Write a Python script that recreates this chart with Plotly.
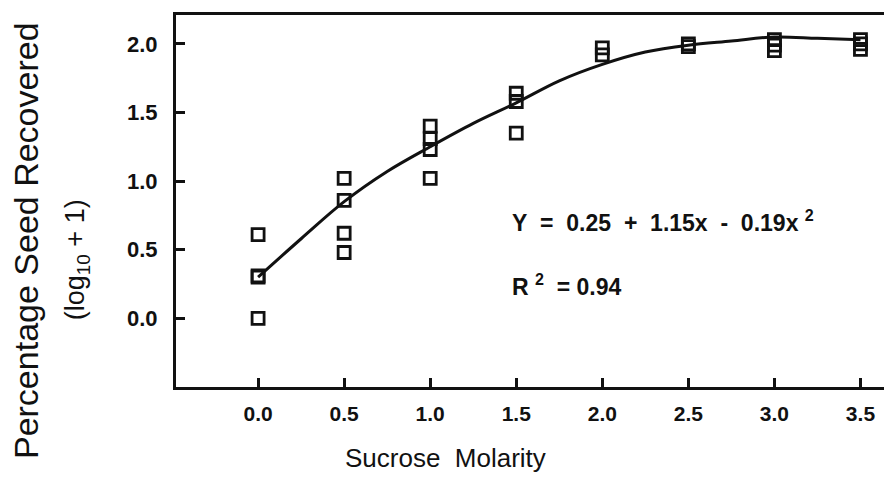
import plotly.graph_objects as go

# Observed data (sucrose molarity vs log10(% seed recovered + 1))
obs_x = [0.0, 0.0, 0.0, 0.0,
         0.5, 0.5, 0.5, 0.5,
         1.0, 1.0, 1.0, 1.0,
         1.5, 1.5, 1.5,
         2.0, 2.0,
         2.5, 2.5,
         3.0, 3.0, 3.0,
         3.5, 3.5, 3.5]
obs_y = [0.61, 0.30, 0.31, 0.0,
         1.02, 0.86, 0.62, 0.48,
         1.40, 1.31, 1.23, 1.02,
         1.64, 1.58, 1.35,
         1.97, 1.92,
         2.00, 1.98,
         2.03, 1.99, 1.95,
         2.03, 2.00, 1.96]

# Fitted curve as drawn
fit_x = [0.0, 0.25, 0.5, 0.75, 1.0, 1.25, 1.5, 1.75, 2.0, 2.25, 2.5, 2.75, 3.0, 3.25, 3.5]
fit_y = [0.30, 0.58, 0.85, 1.07, 1.25, 1.42, 1.57, 1.73, 1.85, 1.94, 1.99, 2.02, 2.05, 2.04, 2.03]

x_ticks = [0.0, 0.5, 1.0, 1.5, 2.0, 2.5, 3.0, 3.5]
x_tick_labels = ["0.0", "0.5", "1.0", "1.5", "2.0", "2.5", "3.0", "3.5"]
y_ticks = [0.0, 0.5, 1.0, 1.5, 2.0]
y_tick_labels = ["0.0", "0.5", "1.0", "1.5", "2.0"]

FONT = "Liberation Sans, Arial, Helvetica, sans-serif"
INK = "#111111"
SP = "&nbsp;"

fig = go.Figure()
fig.add_trace(go.Scatter(
    x=fit_x, y=fit_y, mode="lines",
    line=dict(color=INK, width=3, shape="spline", smoothing=1.0),
    hoverinfo="skip", showlegend=False))
fig.add_trace(go.Scatter(
    x=obs_x, y=obs_y, mode="markers",
    marker=dict(symbol="square-open", size=12, color=INK, line=dict(width=2.8, color=INK)),
    showlegend=False))

eq_text = ("Y" + SP * 2 + "=" + SP * 2 + "0.25" + SP * 2 + "+" + SP * 2 + "1.15x" + SP * 2 +
           "-" + SP * 2 + "0.19x" + SP + "<sup>2</sup>")
r2_text = "R" + SP + "<sup>2</sup>" + SP * 2 + "=" + SP + "0.94"

fig.update_layout(
    width=892, height=480,
    margin=dict(l=168, r=12, t=4, b=101),
    paper_bgcolor="white", plot_bgcolor="white",
    font=dict(family=FONT, color=INK),
    xaxis=dict(range=[-0.477, 3.66], tickvals=x_ticks, ticktext=x_tick_labels,
               ticks="inside", ticklen=9, tickwidth=2.5, tickcolor=INK,
               showline=True, linewidth=3, linecolor=INK, mirror=True,
               showgrid=False, zeroline=False,
               tickfont=dict(size=21, family=FONT, color=INK, weight="bold"),
               ticklabelstandoff=6),
    yaxis=dict(range=[-0.50, 2.21], tickvals=y_ticks, ticktext=y_tick_labels,
               ticks="inside", ticklen=9, tickwidth=2.5, tickcolor=INK,
               showline=True, linewidth=3, linecolor=INK, mirror=True,
               showgrid=False, zeroline=False,
               tickfont=dict(size=22, family=FONT, color=INK, weight="bold"),
               ticklabelstandoff=11),
    annotations=[
        dict(text="Percentage Seed Recovered", xref="paper", yref="paper",
             x=-0.2107, y=0.395, textangle=-90, showarrow=False,
             xanchor="center", yanchor="middle", font=dict(size=34, family=FONT, color=INK)),
        dict(text="(log<sub>10</sub> + 1)", xref="paper", yref="paper",
             x=-0.139, y=0.341, textangle=-90, showarrow=False,
             xanchor="center", yanchor="middle", font=dict(size=27, family=FONT, color=INK)),
        dict(text="Sucrose  Molarity".replace("  ", SP * 2), xref="paper", yref="paper",
             x=0.379, y=-0.192, showarrow=False,
             xanchor="center", yanchor="middle", font=dict(size=26, family=FONT, color=INK)),
        dict(text=eq_text, xref="x", yref="y",
             x=1.465, y=0.71, showarrow=False, xanchor="left", yanchor="middle",
             font=dict(size=23, family=FONT, color=INK, weight="bold")),
        dict(text=r2_text, xref="x", yref="y",
             x=1.465, y=0.24, showarrow=False, xanchor="left", yanchor="middle",
             font=dict(size=23, family=FONT, color=INK, weight="bold")),
    ],
)

fig.write_html("out.html")
